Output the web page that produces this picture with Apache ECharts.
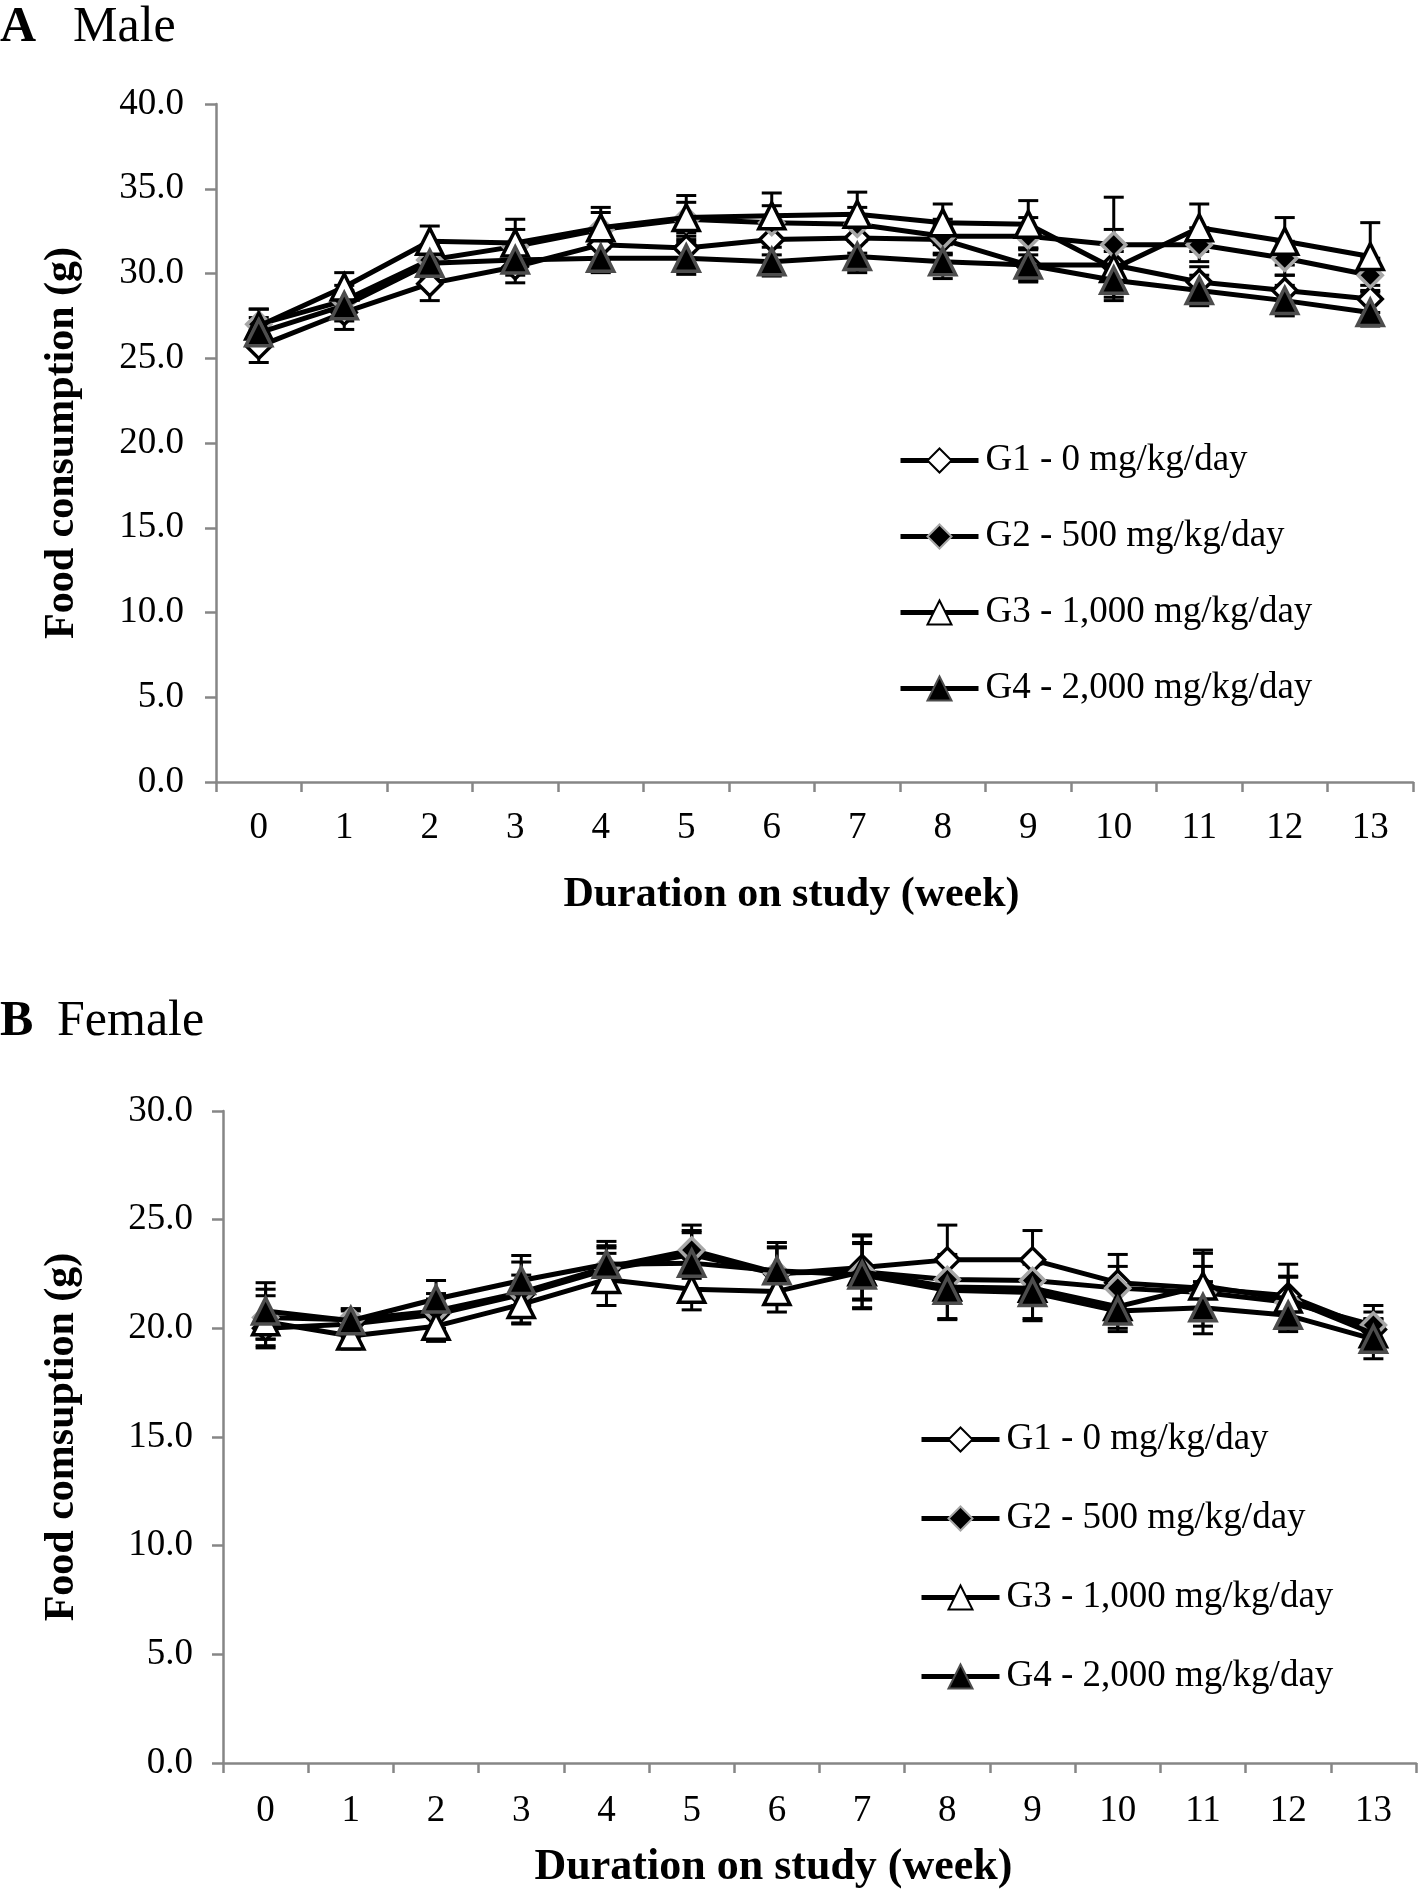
<!DOCTYPE html>
<html>
<head>
<meta charset="utf-8">
<script src="https://cdn.jsdelivr.net/npm/echarts@6/dist/echarts.min.js"></script>
<style>
  html, body { margin: 0; padding: 0; background: #fff; }
  #main { width: 1419px; height: 1891px; }
</style>
</head>
<body>
<div id="main"></div>
<script>
const weeks = ['0', '1', '2', '3', '4', '5', '6', '7', '8', '9', '10', '11', '12', '13'];
const groupNames = ['G1 - 0 mg/kg/day', 'G2 - 500 mg/kg/day', 'G3 - 1,000 mg/kg/day', 'G4 - 2,000 mg/kg/day'];

// A: male, mean food consumption (g)
const maleG1 = [25.7, 27.7, 29.4, 30.4, 31.7, 31.5, 32.0, 32.1, 32.0, 30.5, 30.5, 29.5, 29.0, 28.5];
const maleG2 = [27.0, 28.4, 30.8, 31.6, 32.6, 33.2, 33.0, 32.9, 32.2, 32.2, 31.7, 31.7, 30.9, 29.9];
const maleG3 = [26.9, 29.2, 31.9, 31.8, 32.7, 33.3, 33.4, 33.5, 33.0, 32.9, 30.3, 32.7, 31.9, 31.0];
const maleG4 = [26.5, 28.1, 30.6, 30.8, 30.9, 30.9, 30.7, 31.0, 30.7, 30.5, 29.6, 29.0, 28.4, 27.7];
// A: male, SD
const maleSd1 = [0.95, 1.0, 1.0, 0.95, 0.9, 0.9, 0.9, 0.9, 0.9, 0.9, 2.1, 0.9, 0.9, 0.8];
const maleSd2 = [0.9, 0.9, 0.9, 1.0, 1.0, 1.0, 1.0, 1.0, 1.0, 1.1, 2.8, 1.0, 1.0, 1.0];
const maleSd3 = [1.0, 0.85, 0.9, 1.4, 1.2, 1.3, 1.35, 1.3, 1.1, 1.4, 1.0, 1.4, 1.4, 2.0];
const maleSd4 = [0.9, 0.9, 0.9, 0.9, 0.85, 0.95, 0.85, 0.95, 1.0, 1.0, 1.0, 0.9, 0.9, 0.8];

// B: female, mean food consumption (g)
const femaleG1 = [20.0, 20.2, 20.65, 21.55, 22.7, 23.4, 22.5, 22.8, 23.15, 23.15, 22.1, 21.85, 21.5, 19.95];
const femaleG2 = [20.5, 20.4, 20.8, 21.65, 22.8, 23.6, 22.55, 22.6, 22.25, 22.2, 21.85, 21.65, 21.2, 20.15];
const femaleG3 = [20.3, 19.65, 20.1, 21.1, 22.25, 21.8, 21.7, 22.6, 21.9, 21.85, 21.0, 21.95, 21.35, 19.75];
const femaleG4 = [20.8, 20.35, 21.35, 22.2, 22.95, 23.0, 22.65, 22.45, 21.75, 21.65, 20.8, 20.95, 20.6, 19.5];
// B: female, SD
const femaleSd1 = [0.5, 0.6, 0.7, 0.9, 1.0, 1.1, 1.2, 1.45, 1.6, 1.35, 1.3, 1.75, 1.45, 0.8];
const femaleSd2 = [1.3, 0.5, 0.8, 1.4, 1.0, 1.15, 1.2, 1.3, 1.0, 1.0, 1.0, 1.2, 1.2, 0.9];
const femaleSd3 = [1.2, 0.6, 0.7, 0.9, 1.2, 0.95, 0.95, 1.7, 1.5, 1.4, 1.0, 1.5, 1.0, 0.7];
const femaleSd4 = [1.3, 0.55, 0.85, 1.15, 1.05, 1.4, 1.3, 1.5, 1.3, 1.3, 0.95, 1.2, 0.75, 0.9];

const maleTicks = [0, 40, 5];
const femaleTicks = [0, 30, 5];

const FONT = 'Liberation Serif';
const AXIS_GREY = '#868686';

const markers = [
  { symbol: 'diamond', size: 24, fill: '#ffffff', border: '#000000' },
  { symbol: 'diamond', size: 24, fill: '#000000', border: '#a6a6a6' },
  { symbol: 'triangle', size: 26, fill: '#ffffff', border: '#000000' },
  { symbol: 'triangle', size: 26, fill: '#000000', border: '#4d4d4d' }
];

function errorBars(params, api) {
  const x = api.value(0);
  const m = api.value(1);
  const s = api.value(2);
  const top = api.coord([x, m + s]);
  const bot = api.coord([x, m - s]);
  const w = 10;
  const st = { stroke: '#000', lineWidth: 3 };
  return {
    type: 'group',
    children: [
      { type: 'line', shape: { x1: top[0], y1: top[1], x2: bot[0], y2: bot[1] }, style: st },
      { type: 'line', shape: { x1: top[0] - w, y1: top[1], x2: top[0] + w, y2: top[1] }, style: st },
      { type: 'line', shape: { x1: bot[0] - w, y1: bot[1], x2: bot[0] + w, y2: bot[1] }, style: st }
    ]
  };
}

function panelSeries(means, sds, axisIndex) {
  const out = [];
  means.forEach((m, g) => {
    out.push({
      type: 'custom',
      name: 'err' + axisIndex + g,
      xAxisIndex: axisIndex,
      yAxisIndex: axisIndex,
      silent: true,
      z: 1,
      renderItem: errorBars,
      encode: { x: 0, y: 1 },
      data: m.map((v, i) => [i, v, sds[g][i]])
    });
  });
  means.forEach((m, g) => {
    const mk = markers[g];
    out.push({
      type: 'line',
      name: groupNames[g],
      xAxisIndex: axisIndex,
      yAxisIndex: axisIndex,
      z: 2 + g,
      data: m,
      symbol: mk.symbol,
      symbolSize: mk.size,
      showAllSymbol: true,
      lineStyle: { color: '#000', width: 5 },
      itemStyle: { color: mk.fill, borderColor: mk.border, borderWidth: 3.5 }
    });
  });
  return out;
}

function xAxisFor(gridIndex, nameGap, nameSize, shiftLeft, labelMargin) {
  return {
    type: 'category',
    gridIndex: gridIndex,
    data: weeks,
    boundaryGap: true,
    name: 'Duration on study (week)',
    nameLocation: 'middle',
    nameGap: nameGap,
    nameTextStyle: {
      fontFamily: FONT, fontSize: nameSize, fontWeight: 'bold', color: '#000',
      padding: [0, shiftLeft * 2, 0, 0]
    },
    axisLine: { lineStyle: { color: AXIS_GREY, width: 2.5 } },
    axisTick: { show: true, length: 10, lineStyle: { color: AXIS_GREY, width: 2.5 } },
    axisLabel: { fontFamily: FONT, fontSize: 37, color: '#000', margin: labelMargin },
    splitLine: { show: false }
  };
}

function yAxisFor(gridIndex, ticks, name, nameGap, labelMargin) {
  return {
    type: 'value',
    gridIndex: gridIndex,
    min: ticks[0],
    max: ticks[1],
    interval: ticks[2],
    name: name,
    nameLocation: 'middle',
    nameGap: nameGap,
    nameRotate: 90,
    nameTextStyle: { fontFamily: FONT, fontSize: 42, fontWeight: 'bold', color: '#000' },
    axisLine: { show: true, lineStyle: { color: AXIS_GREY, width: 2.5 } },
    axisTick: { show: true, length: 11, lineStyle: { color: AXIS_GREY, width: 2.5 } },
    axisLabel: {
      fontFamily: FONT, fontSize: 37, color: '#000', margin: labelMargin,
      formatter: v => v.toFixed(1)
    },
    splitLine: { show: false }
  };
}

function legendFor(left, top, gap) {
  return {
    data: groupNames,
    orient: 'vertical',
    left: left,
    top: top,
    itemWidth: 78,
    itemHeight: 30,
    itemGap: gap,
    selectedMode: false,
    lineStyle: { width: 5 },
    textStyle: { fontFamily: FONT, fontSize: 37, color: '#000', padding: [0, 0, 0, 2] }
  };
}

const chart = echarts.init(document.getElementById('main'));

const option = {
  animation: false,
  backgroundColor: '#fff',
  title: [
    { text: 'A', left: 0, top: 3, padding: 0, textStyle: { fontFamily: FONT, fontSize: 50, fontWeight: 'bold', color: '#000' } },
    { text: 'Male', left: 73, top: 3, padding: 0, textStyle: { fontFamily: FONT, fontSize: 50, fontWeight: 'normal', color: '#000' } },
    { text: 'B', left: 0, top: 997, padding: 0, textStyle: { fontFamily: FONT, fontSize: 50, fontWeight: 'bold', color: '#000' } },
    { text: 'Female', left: 57, top: 997, padding: 0, textStyle: { fontFamily: FONT, fontSize: 50, fontWeight: 'normal', color: '#000' } }
  ],
  legend: [
    legendFor(893, 437, 39),
    legendFor(914, 1416, 42)
  ],
  grid: [
    { left: 216, top: 104, width: 1197, height: 678 },
    { left: 223, top: 1111, width: 1193, height: 652 }
  ],
  xAxis: [xAxisFor(0, 92, 42, 23, 28), xAxisFor(1, 83, 44, 46, 30)],
  yAxis: [
    yAxisFor(0, maleTicks, 'Food consumption (g)', 133, 32),
    yAxisFor(1, femaleTicks, 'Food comsuption (g)', 140, 30)
  ],
  series: [].concat(
    panelSeries([maleG1, maleG2, maleG3, maleG4], [maleSd1, maleSd2, maleSd3, maleSd4], 0),
    panelSeries([femaleG1, femaleG2, femaleG3, femaleG4], [femaleSd1, femaleSd2, femaleSd3, femaleSd4], 1)
  )
};

chart.setOption(option);
</script>
</body>
</html>
